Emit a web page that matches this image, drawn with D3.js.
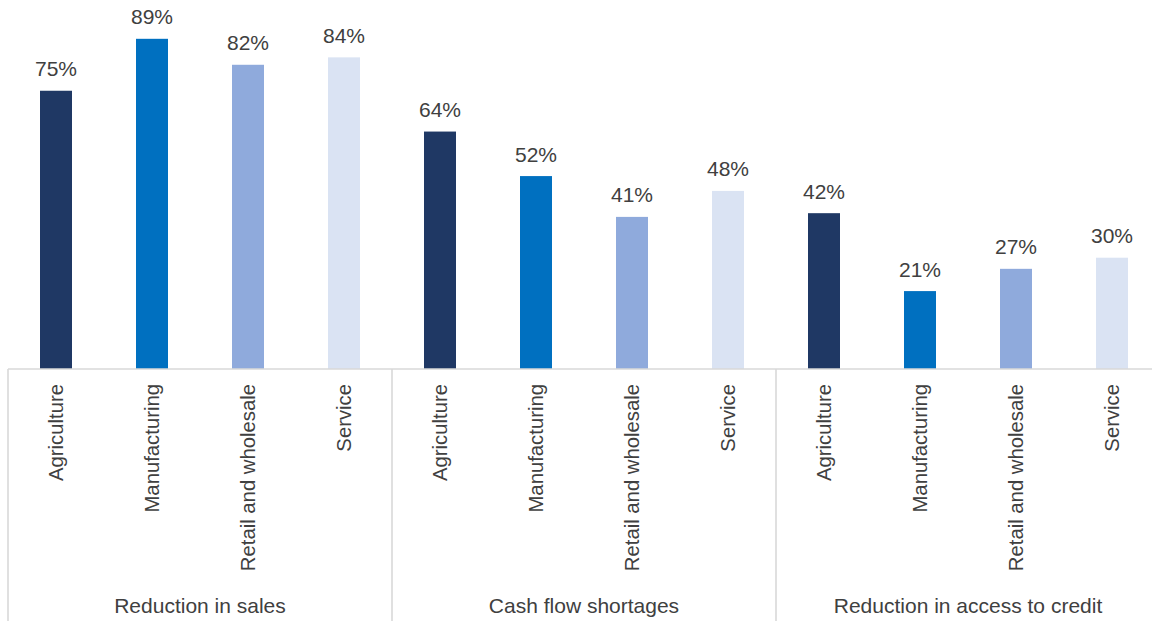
<!DOCTYPE html>
<html>
<head>
<meta charset="utf-8">
<script src="https://cdn.jsdelivr.net/npm/d3@7"></script>
<style>
  html, body { margin: 0; padding: 0; background: #fff; }
  svg { display: block; font-family: "Liberation Sans", Arial, sans-serif; }
</style>
</head>
<body>
<svg id="chart" width="1152" height="621"></svg>
<script>
// Impacts by sector, share of firms (%)
const groups = ["Reduction in sales", "Cash flow shortages", "Reduction in access to credit"];
const sectors = ["Agriculture", "Manufacturing", "Retail and wholesale", "Service"];
const salesValues = [75, 89, 82, 84];
const cashFlowValues = [64, 52, 41, 48];
const creditValues = [42, 21, 27, 30];
const sectorColors = ["#1F3864", "#0070C0", "#8FAADC", "#DAE3F3"];

const seriesByGroup = [salesValues, cashFlowValues, creditValues];
const rows = [];
groups.forEach((g, gi) => {
  sectors.forEach((s, si) => rows.push({ group: g, sector: s, value: seriesByGroup[gi][si] }));
});

const svg = d3.select("#chart");
const baseY = 369;

const x0 = d3.scaleBand().domain(groups).range([8, 1160]).padding(0);
const x1 = d3.scaleBand().domain(sectors).range([0, x0.bandwidth()])
  .paddingInner(2 / 3).paddingOuter(1 / 3);
const y = d3.scaleLinear().domain([0, 100]).range([baseY, -2]);
const color = d3.scaleOrdinal().domain(sectors).range(sectorColors);

// Bars
svg.append("g").selectAll("rect")
  .data(rows)
  .join("rect")
  .attr("x", d => x0(d.group) + x1(d.sector))
  .attr("y", d => y(d.value))
  .attr("width", x1.bandwidth())
  .attr("height", d => baseY - y(d.value))
  .attr("fill", d => color(d.sector));

// Value labels
svg.append("g").selectAll("text")
  .data(rows)
  .join("text")
  .attr("x", d => x0(d.group) + x1(d.sector) + x1.bandwidth() / 2)
  .attr("y", d => y(d.value) - 14.5)
  .attr("text-anchor", "middle")
  .attr("font-size", 21)
  .attr("fill", "#404040")
  .text(d => d.value + "%");

// Category axis: baseline and group dividers
const axis = svg.append("g").attr("stroke", "#D9D9D9").attr("fill", "none");
axis.append("line")
  .attr("x1", 8).attr("x2", 1152)
  .attr("y1", baseY).attr("y2", baseY)
  .attr("stroke-width", 1.3);
axis.selectAll("line.div")
  .data(groups)
  .join("line")
  .attr("class", "div")
  .attr("x1", d => x0(d)).attr("x2", d => x0(d))
  .attr("y1", baseY).attr("y2", 621)
  .attr("stroke-width", 1.6);

// Rotated sector labels
svg.append("g").selectAll("text")
  .data(rows)
  .join("text")
  .attr("transform", d => `translate(${x0(d.group) + x1(d.sector) + x1.bandwidth() / 2},384) rotate(-90)`)
  .attr("text-anchor", "end")
  .attr("dy", "0.35em")
  .attr("font-size", 20.3)
  .attr("fill", "#404040")
  .text(d => d.sector);

// Group labels
svg.append("g").selectAll("text")
  .data(groups)
  .join("text")
  .attr("x", d => x0(d) + x0.bandwidth() / 2)
  .attr("y", 613)
  .attr("text-anchor", "middle")
  .attr("font-size", 21)
  .attr("fill", "#404040")
  .text(d => d);
</script>
</body>
</html>
